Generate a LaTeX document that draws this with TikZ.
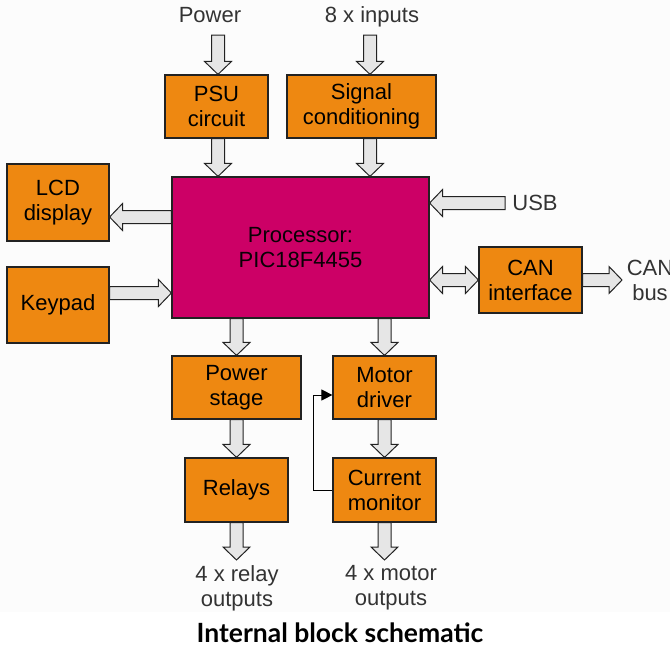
\documentclass[tikz,border=0pt]{standalone}
\usepackage{fontspec}
\setmainfont{Liberation Sans}
\newfontfamily\capfont{Lato}
\usetikzlibrary{calc,arrows.meta,positioning}
\definecolor{boxorange}{HTML}{EE8811}
\definecolor{procpink}{HTML}{CC0066}
\definecolor{arrowgrey}{HTML}{E6E6E6}
\definecolor{edgegrey}{HTML}{222222}
\definecolor{paper}{HTML}{FCFCFC}
\tikzset{
  block/.style={draw=edgegrey, line width=1.2pt, fill=boxorange, align=center,
    inner sep=0pt, text=black, font=\fontsize{22}{25}\selectfont},
  cpubox/.style={block, fill=procpink, text=black!95!procpink},
  iotext/.style={align=center, inner sep=0pt, text=black!80, font=\fontsize{22}{25}\selectfont},
  fat/.style={draw=edgegrey, line width=1pt, fill=arrowgrey, line join=miter},
  fbline/.style={draw=black, line width=1pt, -{Triangle[length=11pt,width=11pt]}}
}
% block arrow, tail #1, tip #2
\newcommand{\fatarrow}[2]{%
  \filldraw[fat] ($(#1)!6.5pt!90:(#2)$) -- ($(#2)!13pt!(#1)!6.5pt!-90:(#1)$)
    -- ($(#2)!13pt!(#1)!13.5pt!-90:(#1)$) -- (#2)
    -- ($(#2)!13pt!(#1)!13.5pt!90:(#1)$) -- ($(#2)!13pt!(#1)!6.5pt!90:(#1)$)
    -- ($(#1)!6.5pt!-90:(#2)$) -- cycle;}
% block arrow with two tips
\newcommand{\dblarrow}[2]{%
  \filldraw[fat] (#1) -- ($(#1)!13pt!(#2)!13.5pt!90:(#2)$) -- ($(#1)!13pt!(#2)!6.5pt!90:(#2)$)
    -- ($(#2)!13pt!(#1)!6.5pt!-90:(#1)$) -- ($(#2)!13pt!(#1)!13.5pt!-90:(#1)$) -- (#2)
    -- ($(#2)!13pt!(#1)!13.5pt!90:(#1)$) -- ($(#2)!13pt!(#1)!6.5pt!90:(#1)$)
    -- ($(#1)!13pt!(#2)!6.5pt!-90:(#2)$) -- ($(#1)!13pt!(#2)!13.5pt!-90:(#2)$) -- cycle;}
\begin{document}
\begin{tikzpicture}[x=1pt, y=-1pt]
  \useasboundingbox (0,0) rectangle (670,648);
  \fill[paper] (0,0) rectangle (670,612);
  % blocks
  \node[block, minimum width=103pt, minimum height=63pt] (psu) at (216.5,106.5) {PSU\\circuit};
  \node[block, minimum width=149pt, minimum height=63pt] (sig) at (361.5,106.5) {Signal\\conditioning};
  \node[cpubox, minimum width=257pt, minimum height=141pt] (cpu) at (300.5,247.5) {Processor:\\PIC18F4455};
  \node[block, minimum width=102pt, minimum height=77pt] (lcd) at (58,202.5) {LCD\\display};
  \node[block, minimum width=102pt, minimum height=76pt] (keys) at (58,305) {Keypad};
  \node[block, minimum width=103pt, minimum height=66pt] (can) at (530.5,280) {CAN\\interface};
  \node[block, minimum width=129pt, minimum height=63pt] (pstage) at (236.5,387.5) {Power\\stage};
  \node[block, minimum width=103pt, minimum height=63pt] (motor) at (384.5,387.5) {Motor\\driver};
  \node[block, minimum width=103pt, minimum height=64pt] (relays) at (236.5,490) {Relays};
  \node[block, minimum width=103pt, minimum height=64pt] (curmon) at (384.5,490) {Current\\monitor};
  % outside texts
  \node[iotext] (power) at (210,15) {Power};
  \node[iotext] (inputs) at (372,17) {8 x inputs};
  \node[iotext] (usb) at (535,203) {USB};
  \node[iotext] (canbus) at (650,280) {CAN\\bus};
  \node[iotext] (relout) at (237,588) {4 x relay\\outputs};
  \node[iotext] (motout) at (391,588) {4 x motor\\outputs};
  \node[font=\capfont\bfseries\fontsize{26.5}{30}\selectfont] (caption) at (340,633) {Internal block schematic};
  % free ends
  \coordinate (pwrtop) at (218,35);
  \coordinate (inptop) at (370,35);
  \coordinate (usbtail) at (505,203);
  \coordinate (lcdy) at (0,217);
  \coordinate (keyy) at (0,293);
  \coordinate (busend) at (622,280);
  \coordinate (outy) at (0,560);
  \coordinate (fby) at (0,395);
  % block arrows
  \fatarrow{pwrtop}{pwrtop |- psu.north}
  \fatarrow{pwrtop |- psu.south}{pwrtop |- cpu.north}
  \fatarrow{inptop}{inptop |- sig.north}
  \fatarrow{inptop |- sig.south}{inptop |- cpu.north}
  \fatarrow{usbtail}{cpu.east |- usbtail}
  \fatarrow{cpu.west |- lcdy}{lcd.east |- lcdy}
  \fatarrow{keys.east |- keyy}{cpu.west |- keyy}
  \dblarrow{cpu.east |- can}{can.west}
  \fatarrow{can.east}{busend}
  \fatarrow{pstage.north |- cpu.south}{pstage.north}
  \fatarrow{motor.north |- cpu.south}{motor.north}
  \fatarrow{pstage.south}{relays.north}
  \fatarrow{motor.south}{curmon.north}
  \fatarrow{relays.south}{relays.south |- outy}
  \fatarrow{curmon.south}{curmon.south |- outy}
  % feedback
  \draw[fbline] (curmon.west) -- ++(-19,0) |- (motor.west |- fby);
\end{tikzpicture}
\end{document}
